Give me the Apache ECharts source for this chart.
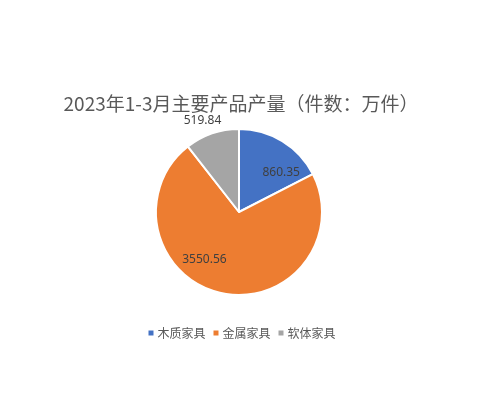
<!DOCTYPE html>
<html>
<head>
<meta charset="utf-8">
<title>2023年1-3月主要产品产量</title>
<script src="https://cdn.jsdelivr.net/npm/echarts@6/dist/echarts.min.js"></script>
<style>
    html, body { margin: 0; padding: 0; background: #fff; }
    #chart { width: 482px; height: 420px; }
</style>
</head>
<body>
<div id="chart"></div>
<script>
    // 数据
    var categories = ['木质家具', '金属家具', '软体家具'];
    var values = [860.35, 3550.56, 519.84];
    var colors = ['#4472C4', '#ED7D31', '#A5A5A5'];
    // label nudges (Excel "best fit" placement)
    var labelShift = [[19, -1], [-25, 4], [-22, -49]];

    var pieData = categories.map(function (name, i) {
        return { name: name, value: values[i], itemStyle: { color: colors[i] } };
    });

    var myChart = echarts.init(document.getElementById('chart'));
    var option = {
        animation: false,
        title: {
            text: '2023年1-3月主要产品产量（件数：万件）',
            left: 'center',
            top: 89,
            textStyle: {
                fontFamily: 'Noto Sans CJK SC',
                fontSize: 19,
                fontWeight: 'normal',
                color: '#595959'
            }
        },
        legend: {
            bottom: 76,
            left: 'center',
            icon: 'rect',
            itemWidth: 7,
            itemHeight: 7,
            itemGap: 6,
            textStyle: {
                fontFamily: 'Noto Sans CJK SC',
                fontSize: 12,
                color: '#595959',
                padding: [0, 0, 0, -2]
            },
            data: categories
        },
        series: [{
            type: 'pie',
            center: [239, 212],
            radius: 83,
            startAngle: 90,
            clockwise: true,
            itemStyle: { borderColor: '#fff', borderWidth: 2 },
            label: {
                position: 'inside',
                formatter: '{c}',
                fontFamily: 'Noto Sans',
                fontSize: 12,
                color: '#404040'
            },
            labelLine: { show: false },
            labelLayout: function (p) {
                var s = labelShift[p.dataIndex];
                return { dx: s[0], dy: s[1] };
            },
            emphasis: { disabled: true },
            data: pieData
        }]
    };
    myChart.setOption(option);
</script>
</body>
</html>
